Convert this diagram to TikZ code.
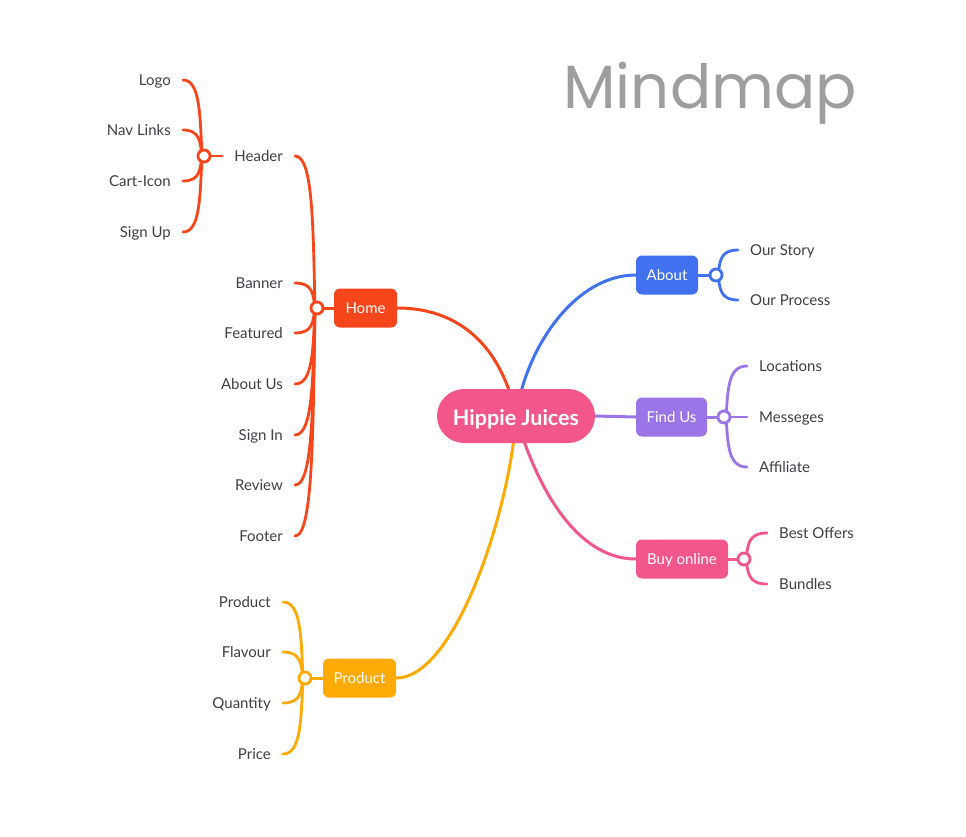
\documentclass[tikz,border=0pt]{standalone}
\usepackage{fontspec}
\setmainfont{Lato}
\newfontfamily\titlefont{Poppins}
\usetikzlibrary{calc}
\pgfdeclarelayer{back}
\pgfdeclarelayer{bg}
\pgfsetlayers{back,bg,main}
\definecolor{cRed}{HTML}{F8461C}
\definecolor{cYel}{HTML}{FDAA04}
\definecolor{cBlue}{HTML}{4271F0}
\definecolor{cPur}{HTML}{9B74E8}
\definecolor{cPink}{HTML}{F2568B}
\definecolor{cTxt}{HTML}{3F3F46}
\definecolor{cTitle}{HTML}{9E9E9E}
\newcommand{\mmkid}[4]{%
  \draw[#1] let \p1=(#3), \p2=(#2) in (\p1)
    .. controls ({\x2+#4*4pt},\y1) and ({\x2+#4*4pt},{\y1+0.45*(\y2-\y1)})
    .. ({\x2+#4*2pt},\y2);}
\tikzset{
  lbl/.style={font=\fontsize{15}{17}\selectfont, text=cTxt, inner xsep=12pt, inner ysep=0pt, text height=12pt, text depth=2pt},
  topic/.style={rounded corners=6pt, fill=#1, text=white, font=\fontsize{15}{17}\selectfont, minimum height=39pt, inner sep=0pt, text height=12pt, text depth=2pt},
  jn/.style={circle, draw=#1, fill=white, line width=2.8pt, minimum size=12pt, inner sep=0pt},
  br/.style={draw=#1, line width=3pt, line cap=round},
  kid/.style={draw=#1, line width=2.8pt, line cap=round},
}
\begin{document}
\begin{tikzpicture}[x=1pt,y=-1pt]
\useasboundingbox (0,0) rectangle (966,836);
\begin{pgfonlayer}{back}
\fill[white] (0,0) rectangle (966,836);
\end{pgfonlayer}

% title
\node[font=\titlefont\fontsize{61}{70}\selectfont, text=cTitle, anchor=base, inner sep=0pt] (title) at (710,108) {Mindmap};

% central
\node[rounded corners=27pt, fill=cPink, text=white, minimum width=158pt, minimum height=54pt, inner sep=0pt, font=\bfseries\fontsize{21.5}{24}\selectfont, text height=21pt, text depth=2pt] (hj) at (516,416) {Hippie Juices};

% main topics
\node[topic=cRed, minimum width=63pt] (home) at (365.5,308) {Home};
\node[topic=cYel, minimum width=73pt] (product) at (359.5,678) {Product};
\node[topic=cBlue, minimum width=62pt] (about) at (667,275) {About};
\node[topic=cPur, minimum width=71pt] (findus) at (671.5,417) {Find Us};
\node[topic=cPink, minimum width=92pt] (buy) at (682,559) {Buy online};

% junctions
\node[jn=cRed] (jhome) at (317,308) {};
\node[jn=cRed] (jhead) at (204,156) {};
\node[jn=cYel] (jprod) at (305,678) {};
\node[jn=cBlue] (jabout) at (716,275) {};
\node[jn=cPur] (jfind) at (724,417) {};
\node[jn=cPink] (jbuy) at (744,559) {};

% Home children
\node[lbl, anchor=east] (header) at (295,156) {Header};
\node[lbl, anchor=east] (banner) at (295,283) {Banner};
\node[lbl, anchor=east] (featured) at (295,333) {Featured};
\node[lbl, anchor=east] (aboutus) at (295,384) {About Us};
\node[lbl, anchor=east] (signin) at (295,435) {Sign In};
\node[lbl, anchor=east] (review) at (295,485) {Review};
\node[lbl, anchor=east] (footer) at (295,536) {Footer};

% Header children
\node[lbl, anchor=east] (logo) at (183,80) {Logo};
\node[lbl, anchor=east] (navlinks) at (183,130) {Nav Links};
\node[lbl, anchor=east] (cart) at (183,181) {Cart-Icon};
\node[lbl, anchor=east] (signup) at (183,232) {Sign Up};

% Product children
\node[lbl, anchor=east] (pproduct) at (283,602) {Product};
\node[lbl, anchor=east] (flavour) at (283,652) {Flavour};
\node[lbl, anchor=east] (quantity) at (283,703) {Quantity};
\node[lbl, anchor=east] (price) at (283,754) {Price};

% About children
\node[lbl, anchor=west] (story) at (738,250) {Our Story};
\node[lbl, anchor=west] (process) at (738,300) {Our Process};

% Find Us children
\node[lbl, anchor=west] (locations) at (747,366) {Locations};
\node[lbl, anchor=west] (messeges) at (747,417) {Messeges};
\node[lbl, anchor=west] (affiliate) at (747,467) {Affiliate};

% Buy online children
\node[lbl, anchor=west] (offers) at (767,533) {Best Offers};
\node[lbl, anchor=west] (bundles) at (767,584) {Bundles};

\begin{pgfonlayer}{bg}
  % main branches
  \draw[br=cRed] (home.east) .. controls +(70,0) and +(-12,-60) .. (hj.center);
  \draw[br=cBlue] (hj.center) .. controls +(10,-70) and +(-60,0) .. (about.west);
  \draw[br=cPur] (hj.east) -- (findus.west);
  \draw[br=cPink] (hj.center) .. controls +(20,70) and +(-60,0) .. (buy.west);
  \draw[br=cYel] (hj.center) .. controls +(-5,90) and +(60,0) .. (product.east);
  % stubs
  \draw[br=cRed] (home.west) -- (jhome);
  \draw[br=cYel] (product.west) -- (jprod);
  \draw[br=cBlue] (about.east) -- (jabout);
  \draw[br=cPur] (findus.east) -- (jfind);
  \draw[br=cPink] (buy.east) -- (jbuy);
  \draw[kid=cRed] (jhead) -- (header.west);
  \draw[kid=cPur] (jfind) -- (messeges.west);
  % Home children
  \mmkid{kid=cRed}{jhome}{header.east}{-1}
  \mmkid{kid=cRed}{jhome}{banner.east}{-1}
  \mmkid{kid=cRed}{jhome}{featured.east}{-1}
  \mmkid{kid=cRed}{jhome}{aboutus.east}{-1}
  \mmkid{kid=cRed}{jhome}{signin.east}{-1}
  \mmkid{kid=cRed}{jhome}{review.east}{-1}
  \mmkid{kid=cRed}{jhome}{footer.east}{-1}
  % Header children
  \mmkid{kid=cRed}{jhead}{logo.east}{-1}
  \mmkid{kid=cRed}{jhead}{navlinks.east}{-1}
  \mmkid{kid=cRed}{jhead}{cart.east}{-1}
  \mmkid{kid=cRed}{jhead}{signup.east}{-1}
  % Product children
  \mmkid{kid=cYel}{jprod}{pproduct.east}{-1}
  \mmkid{kid=cYel}{jprod}{flavour.east}{-1}
  \mmkid{kid=cYel}{jprod}{quantity.east}{-1}
  \mmkid{kid=cYel}{jprod}{price.east}{-1}
  % About children
  \mmkid{kid=cBlue}{jabout}{story.west}{1}
  \mmkid{kid=cBlue}{jabout}{process.west}{1}
  % Find Us children
  \mmkid{kid=cPur}{jfind}{locations.west}{1}
  \mmkid{kid=cPur}{jfind}{affiliate.west}{1}
  % Buy online children
  \mmkid{kid=cPink}{jbuy}{offers.west}{1}
  \mmkid{kid=cPink}{jbuy}{bundles.west}{1}
\end{pgfonlayer}
\end{tikzpicture}
\end{document}
